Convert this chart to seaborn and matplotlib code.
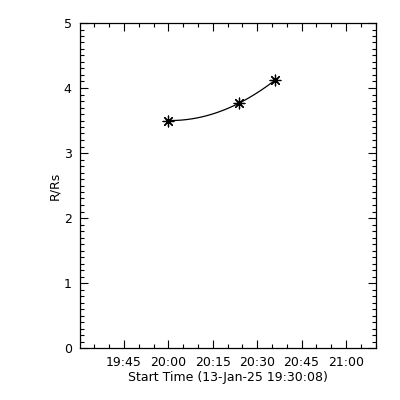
import numpy as np
import pandas as pd
import matplotlib
matplotlib.use('Agg')
import matplotlib.pyplot as plt
import matplotlib.dates as mdates
import seaborn as sns

# height-time points
times = ['2025-01-13 20:00:00', '2025-01-13 20:24:00', '2025-01-13 20:36:00']
heights = [3.50, 3.77, 4.12]
start_time = '2025-01-13 19:30:08'
span_min = 100
xlabel = 'Start Time (13-Jan-25 19:30:08)'
ylabel = 'R/Rs'

t = pd.to_datetime(times)
t0 = pd.Timestamp(start_time)
mins = np.array([(x - t0).total_seconds() / 60 for x in t])

# quadratic fit through the points, like the IDL plot
coef = np.polyfit(mins, heights, 2)
grid = np.linspace(mins[0], mins[-1], 100)
fit = pd.DataFrame({'time': t0 + pd.to_timedelta(grid, unit='m'),
                    'h': np.polyval(coef, grid)})
pts = pd.DataFrame({'time': t, 'h': heights})

sns.set_style('ticks')
plt.rcParams['font.family'] = ['DejaVu Sans']
plt.rcParams['text.color'] = 'black'
plt.rcParams['axes.labelcolor'] = 'black'
fig = plt.figure(figsize=(4, 4), dpi=100)
ax = fig.add_axes([0.2, 0.13, 0.74, 0.8125])

sns.lineplot(data=fit, x='time', y='h', color='black', lw=0.9, ax=ax)
sns.scatterplot(data=pts, x='time', y='h', marker=(8, 2, 0), s=60,
                color='black', linewidth=0.9, ax=ax)

ax.set_xlim(t0, t0 + pd.Timedelta(minutes=span_min))
ax.set_ylim(0, 5)
ax.xaxis.set_major_locator(mdates.MinuteLocator(byminute=[0, 15, 30, 45]))
ax.xaxis.set_minor_locator(mdates.MinuteLocator(byminute=range(0, 60, 5)))
ax.xaxis.set_major_formatter(mdates.DateFormatter('%H:%M'))
ax.yaxis.set_major_locator(plt.MultipleLocator(1))
ax.yaxis.set_minor_locator(plt.MultipleLocator(0.1))

for s in ax.spines.values():
    s.set_visible(True)
    s.set_linewidth(0.9)
    s.set_color('black')
ax.tick_params(which='both', direction='in', top=True, right=True,
               width=0.8, labelsize=9, colors='black')
ax.tick_params(which='major', length=6, pad=6)
ax.tick_params(which='minor', length=3)

ax.set_xlabel(xlabel, fontsize=9, labelpad=1)
ax.set_ylabel(ylabel, fontsize=9, labelpad=2)

fig.savefig('out.png', dpi=100, facecolor='white')
